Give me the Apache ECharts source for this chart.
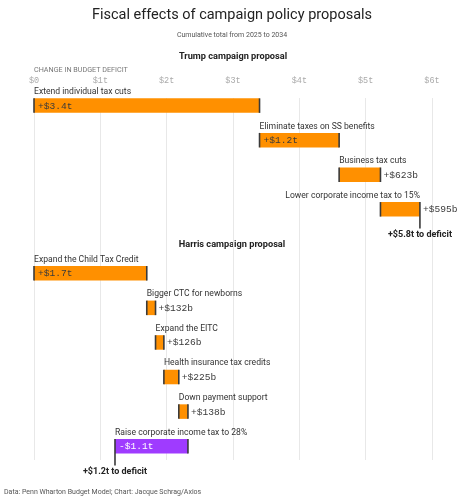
<!DOCTYPE html>
<html><head><meta charset="utf-8">
<script src="https://cdn.jsdelivr.net/npm/echarts@6/dist/echarts.min.js"></script>
<style>html,body{margin:0;padding:0;background:#fff}#c{width:460px;height:502px}</style>
</head><body><div id="c"></div>
<script>
const trumpNames = ['Extend individual tax cuts','Eliminate taxes on SS benefits','Business tax cuts','Lower corporate income tax to 15%'];
const trumpValues = [3.4, 1.2, 0.623, 0.595];
const harrisNames = ['Expand the Child Tax Credit','Bigger CTC for newborns','Expand the EITC','Health insurance tax credits','Down payment support','Raise corporate income tax to 28%'];
const harrisValues = [1.7, 0.132, 0.126, 0.225, 0.138, -1.1];
const xTicks = [0,1,2,3,4,5,6];
const xTickLabels = ['$0','$1t','$2t','$3t','$4t','$5t','$6t'];

const SANS = 'Roboto, "Noto Sans", sans-serif';
const MONO = '"Liberation Mono", "DejaVu Sans Mono", monospace';
const HARRIS_OFFSET = 4.85;

function fmt(v){
  const sign = v < 0 ? '-' : '+';
  const a = Math.abs(v);
  return a >= 1 ? sign + '$' + a.toFixed(1) + 't' : sign + '$' + Math.round(a*1000) + 'b';
}
const mctx = document.createElement('canvas').getContext('2d');
function tw(text, font){ mctx.font = font; return mctx.measureText(text).width; }

const items = [];
function build(names, values, offset, group){
  let cum = 0;
  names.forEach((n,i)=>{
    const s = cum; cum += values[i];
    items.push({value:[s, cum, offset + i, group, i, values[i], (i===names.length-1)?1:0], name:n});
  });
}
build(trumpNames, trumpValues, 0, 0);
build(harrisNames, harrisValues, HARRIS_OFFSET, 1);

const chart = echarts.init(document.getElementById('c'), null, {renderer:'canvas'});

function renderItem(params, api){
  const d = items[params.dataIndex];
  const s = api.value(0), e = api.value(1), r = api.value(2), v = api.value(5), last = api.value(6);
  const p1 = api.coord([s, r]), p2 = api.coord([e, r]);
  const h = api.size([0, 0.42])[1];
  const x0 = Math.min(p1[0], p2[0]), x1 = Math.max(p1[0], p2[0]);
  const yc = p1[1], yt = yc - h/2, yb = yc + h/2;
  const cs = params.coordSys;
  const color = v < 0 ? '#9f3bff' : '#ff9000';
  const children = [];
  children.push({type:'rect', shape:{x:x0, y:yt, width:x1-x0, height:h}, style:{fill:color}});
  const edge = '#3a3a3a';
  children.push({type:'line', shape:{x1:p1[0], y1:yt, x2:p1[0], y2:yb}, style:{stroke:edge, lineWidth:1.6}});
  const endLen = last ? 12 : 0;
  children.push({type:'line', shape:{x1:p2[0], y1:yt, x2:p2[0], y2:yb + endLen}, style:{stroke:edge, lineWidth:1.6}});
  const nameFont = '8.6px ' + SANS;
  const nw = tw(d.name, nameFont);
  const rightAlign = x0 + nw > cs.x + cs.width + 4;
  children.push({type:'text', style:{text:d.name, x: rightAlign ? x1 : x0, y: yt - 2, align: rightAlign ? 'right':'left', verticalAlign:'bottom', font:nameFont, fill:'#333'}});
  const vt = fmt(v);
  const vFont = '9.6px ' + MONO;
  const vw = tw(vt, vFont);
  const inside = (x1 - x0) > vw + 10;
  children.push({type:'text', style:{text:vt, x: inside ? x0 + 4 : x1 + 3, y: yc + 0.5, align:'left', verticalAlign:'middle', font:vFont, fill: inside ? (v < 0 ? '#ffffff' : '#3a3a3a') : '#3a3a3a'}});
  if (last){
    children.push({type:'text', style:{text: fmt(e) + ' to deficit', x:p2[0], y: yb + endLen + 6, align:'center', verticalAlign:'middle', font:'bold 9px ' + SANS, fill:'#222'}});
  }
  return {type:'group', children};
}

function txt(text, x, y, align, font, fill){
  return {type:'text', x:x, y:y, silent:true, style:{text, align, verticalAlign:'middle', font, fill}};
}

chart.setOption({
  animation:false,
  backgroundColor:'#fff',
  graphic:[
    txt('Fiscal effects of campaign policy proposals', 232, 15, 'center', '14.5px ' + SANS, '#222'),
    txt('Cumulative total from 2025 to 2034', 232, 35, 'center', '7px ' + SANS, '#555'),
    txt('Trump campaign proposal', 233, 57, 'center', 'bold 9.2px ' + SANS, '#222'),
    txt('Harris campaign proposal', 232, 245, 'center', 'bold 9.2px ' + SANS, '#222'),
    txt('CHANGE IN BUDGET DEFICIT', 34, 70, 'left', '7.2px ' + SANS, '#777'),
    txt('Data: Penn Wharton Budget Model; Chart: Jacque Schrag/Axios', 4, 492, 'left', '7px ' + SANS, '#555')
  ],
  grid:{left:34, right:28, top:98, bottom:42, containLabel:false},
  xAxis:{type:'value', position:'top', min:0, max:6, interval:1,
    axisLine:{show:false}, axisTick:{show:false},
    splitLine:{show:true, lineStyle:{color:'#e8e8e8', width:1}},
    axisLabel:{margin:13, fontFamily:MONO, fontSize:8.5, color:'#aaa',
      formatter:(val)=>{const i = xTicks.indexOf(val); return i>=0 ? xTickLabels[i] : '';}}
  },
  yAxis:{type:'value', inverse:true, min:-0.22, max:10.25, show:false, splitLine:{show:false}},
  series:[{type:'custom', renderItem, clip:false, data:items.map(it=>it.value), encode:{x:[0,1], y:2}}]
});
</script></body></html>
